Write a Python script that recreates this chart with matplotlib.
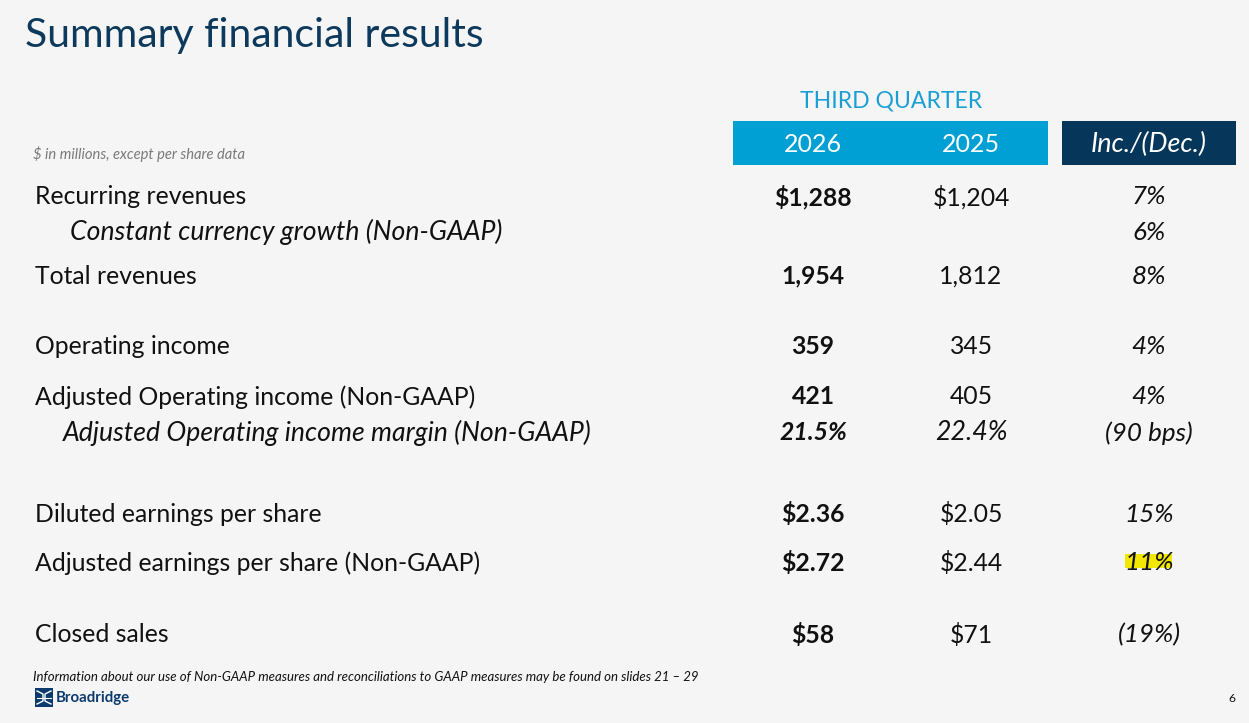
import matplotlib
matplotlib.use("Agg")
import matplotlib.pyplot as plt
from matplotlib.patches import Rectangle

# ---- data ----
row_labels = [
    "Recurring revenues",
    "Constant currency growth (Non-GAAP)",
    "Total revenues",
    "Operating income",
    "Adjusted Operating income (Non-GAAP)",
    "Adjusted Operating income margin (Non-GAAP)",
    "Diluted earnings per share",
    "Adjusted earnings per share (Non-GAAP)",
    "Closed sales",
]
label_italic = [False, True, False, False, False, True, False, False, False]
values_2026 = ["$1,288", "", "1,954", "359", "421", "21.5%", "$2.36", "$2.72", "$58"]
values_2025 = ["$1,204", "", "1,812", "345", "405", "22.4%", "$2.05", "$2.44", "$71"]
changes = ["7%", "6%", "8%", "4%", "4%", "(90 bps)", "15%", "11%", "(19%)"]
highlighted = [False, False, False, False, False, False, False, True, False]
col_headers = ["2026", "2025", "Inc./(Dec.)"]

# ---- layout ----
W, H = 1249, 723
row_y = [197, 232, 276, 347, 397, 433, 514, 563, 635]
label_x = [35, 70, 35, 35, 35, 63, 35, 35, 35]
col_x = [813, 971, 1149]

FONT = "Lato"
BG = "#f5f5f5"
NAVY = "#06375a"
BLUE = "#009fd4"
TXT = "#111111"
ROW_PX = 24.8
ITAL_PX = 26.6
CHG_PX = 26.0

def px(p):
    return p * 0.72

fig = plt.figure(figsize=(W / 100, H / 100), dpi=100, facecolor=BG)
ax = fig.add_axes([0, 0, 1, 1])
ax.set_xlim(0, W)
ax.set_ylim(H, 0)
ax.axis("off")
ax.set_facecolor(BG)

# title
ax.text(25, 36, "Summary financial results", fontsize=px(41), color="#0d3a5c",
        family=FONT, va="center", ha="left")

# header
ax.text(891, 101, "THIRD QUARTER", fontsize=px(23), color="#1a9fd4",
        family=FONT, va="center", ha="center")
ax.add_patch(Rectangle((733, 121), 315, 44, facecolor=BLUE, edgecolor="none"))
ax.add_patch(Rectangle((1062, 121), 174, 44, facecolor=NAVY, edgecolor="none"))
ax.text(col_x[0], 144, col_headers[0], fontsize=px(25), color="white",
        family=FONT, va="center", ha="center")
ax.text(col_x[1], 144, col_headers[1], fontsize=px(25), color="white",
        family=FONT, va="center", ha="center")
ax.text(col_x[2], 144, col_headers[2], fontsize=px(27), color="white",
        family=FONT, style="italic", va="center", ha="center")
ax.text(33, 154, "$ in millions, except per share data", fontsize=px(14.8),
        color="#7a7a7a", family=FONT, style="italic", va="center", ha="left")

# rows
for i, lab in enumerate(row_labels):
    y = row_y[i]
    it = label_italic[i]
    ax.text(label_x[i], y, lab, fontsize=px(ITAL_PX if it else ROW_PX), color=TXT,
            family=FONT, style="italic" if it else "normal", va="center", ha="left")
    if values_2026[i]:
        ax.text(col_x[0], y, values_2026[i], fontsize=px(ROW_PX), color=TXT,
                family=FONT, weight="bold", style="italic" if it else "normal",
                va="center", ha="center")
    if values_2025[i]:
        ax.text(col_x[1], y, values_2025[i], fontsize=px(ITAL_PX if it else ROW_PX),
                color=TXT, family=FONT, style="italic" if it else "normal",
                va="center", ha="center")
    if highlighted[i]:
        ax.add_patch(Rectangle((1125, y - 9), 47, 14, facecolor="#f3e600",
                               edgecolor="none", zorder=1))
    ax.text(col_x[2], y, changes[i], fontsize=px(CHG_PX), color=TXT, family=FONT,
            style="italic", va="center", ha="center", zorder=2)

# footer
ax.text(33, 677, "Information about our use of Non-GAAP measures and reconciliations to GAAP measures may be found on slides 21 \u2013 29",
        fontsize=px(13.2), color=TXT, family=FONT, style="italic", va="center", ha="left")
ax.add_patch(Rectangle((35, 688), 18, 19, facecolor="#0d3a6e", edgecolor="none"))
ax.plot([37, 43, 43, 37], [691, 694, 701, 704], color="white", lw=1.0)
ax.plot([51, 45, 45, 51], [691, 694, 701, 704], color="white", lw=1.0)
ax.plot([37, 51], [697.5, 697.5], color="white", lw=0.8)
ax.text(56, 698, "Broadridge", fontsize=px(15), color="#0d3a6e", family=FONT,
        weight="bold", va="center", ha="left")
ax.text(1232, 699, "6", fontsize=px(12), color=TXT, family=FONT,
        va="center", ha="center")

fig.savefig("out.png", dpi=100, facecolor=BG)
